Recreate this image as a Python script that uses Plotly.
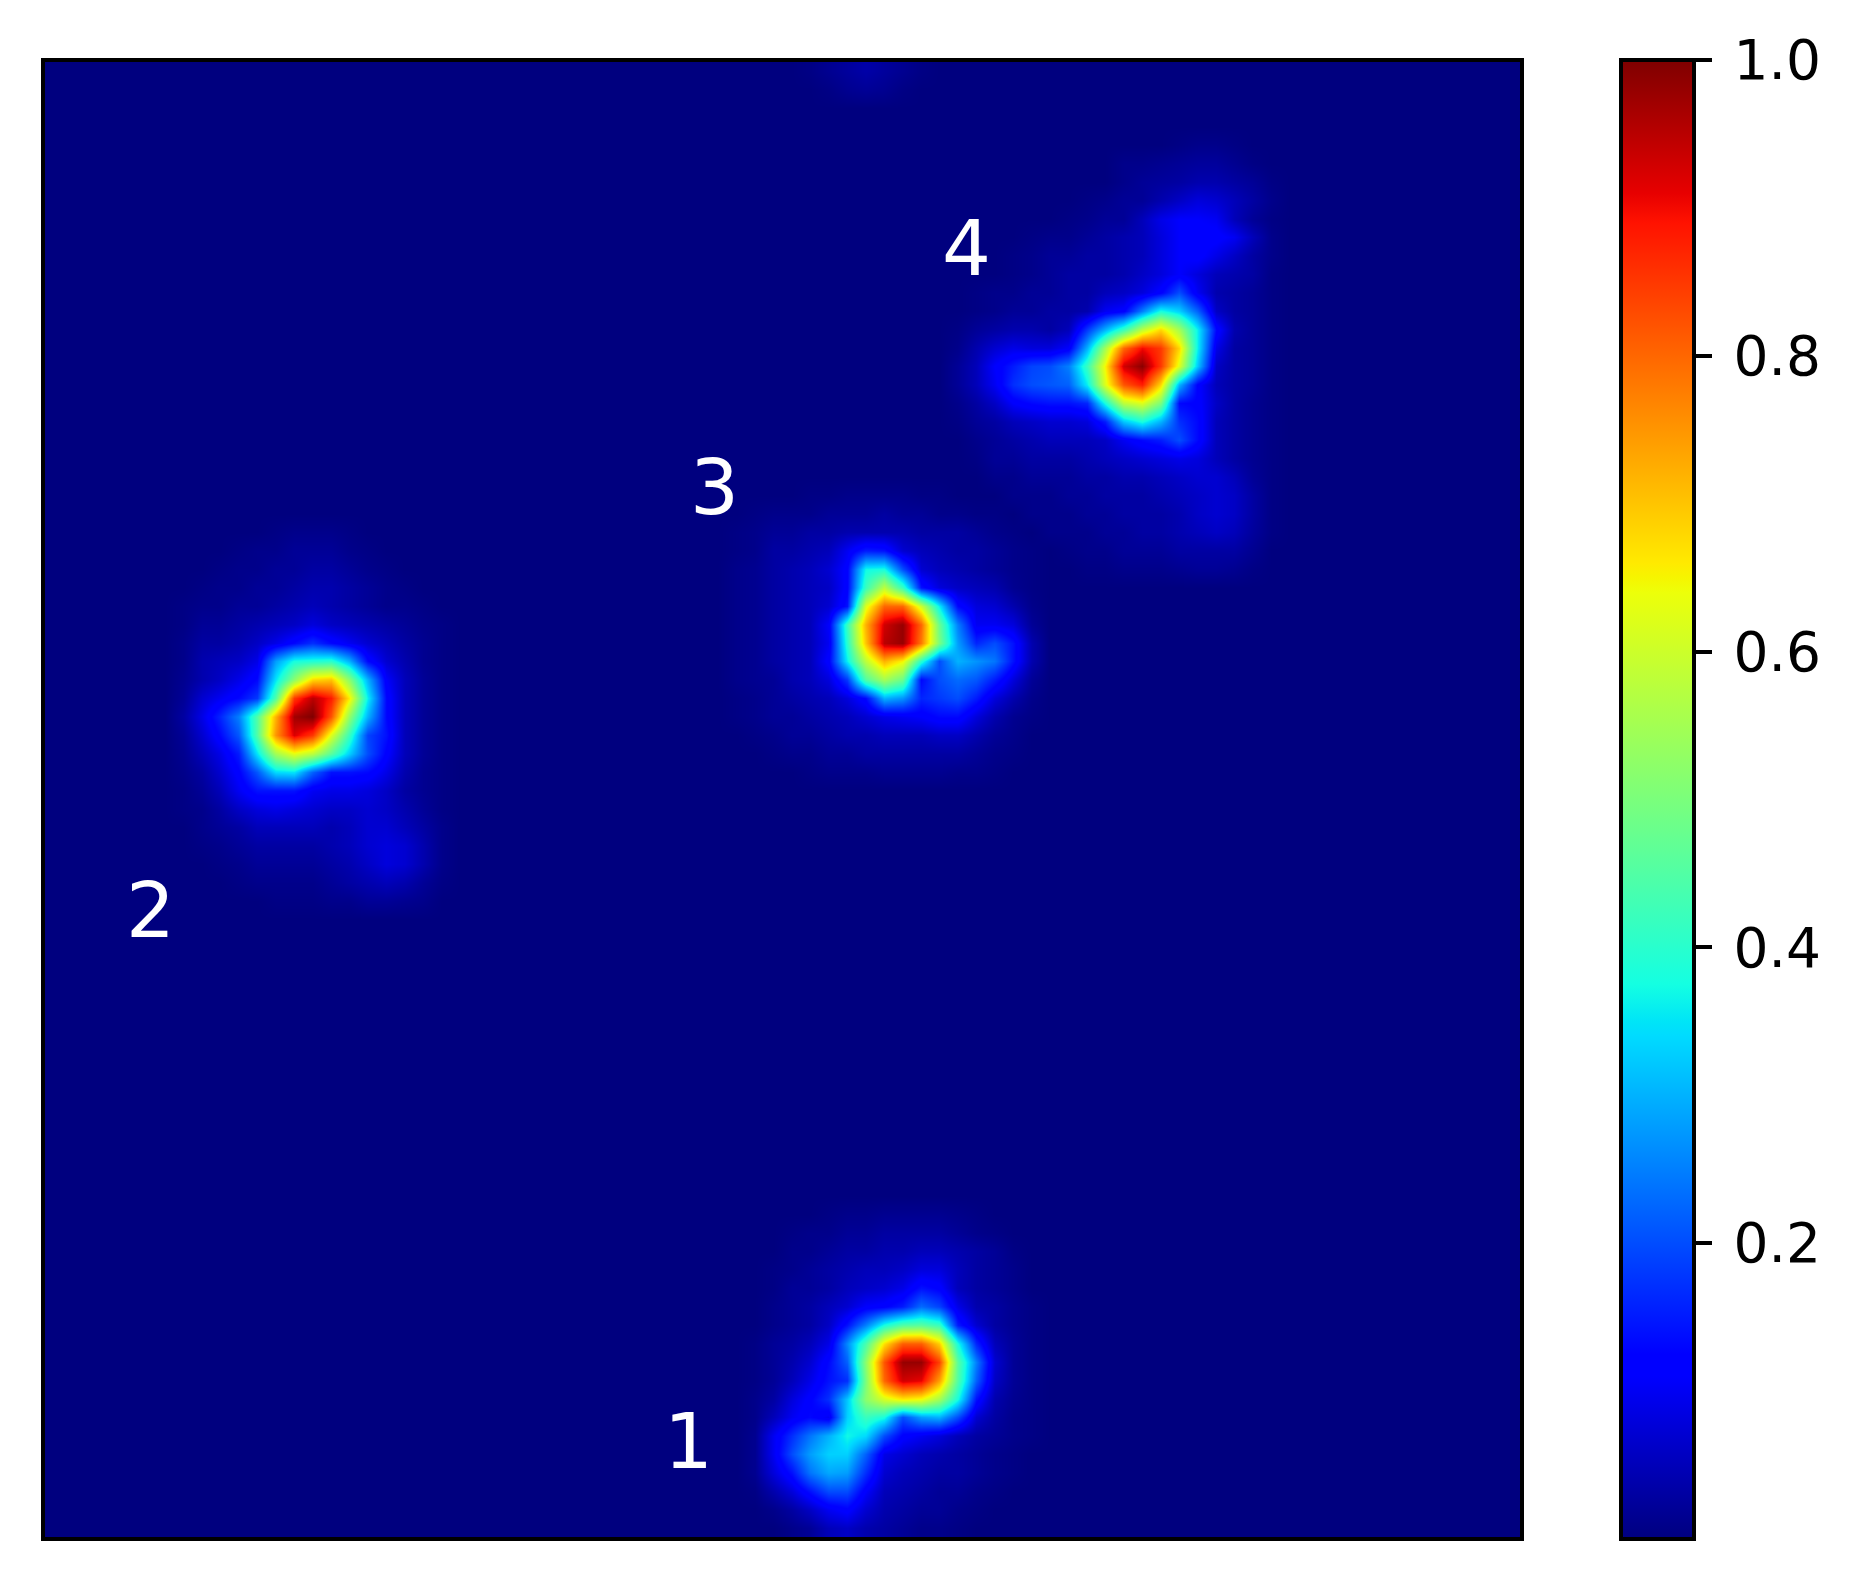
import numpy as np
import plotly.graph_objects as go

grid_size = 80
colorbar_ticks = [0.2, 0.4, 0.6, 0.8, 1.0]
colorbar_labels = ["\u20090.2", "\u20090.4", "\u20090.6", "\u20090.8", "\u20091.0"]
labels = ["1", "2", "3", "4"]
label_cols = [34.4, 5.2, 35.8, 49.5]
label_rows = [74.3, 45.5, 22.6, 9.6]

blob1_origin = (62, 38)
blob1 = [
[0,0,0,0,.005,.01,.01,.015,.015,.015,.015,.01,.005,0,0,0],
[0,0,.005,.01,.01,.02,.02,.03,.03,.03,.03,.02,.01,.005,0,0],
[0,0,.01,.01,.02,.03,.03,.04,.04,.05,.05,.04,.03,.02,.005,0],
[0,.005,.01,.02,.03,.04,.05,.05,.06,.08,.08,.05,.03,.02,.01,0],
[0,.005,.02,.02,.03,.05,.06,.07,.09,.14,.12,.05,.03,.02,.01,0],
[0,.01,.02,.03,.05,.07,.11,.12,.15,.23,.19,.09,.04,.03,.015,.005],
[0,.01,.02,.03,.06,.14,.25,.38,.45,.46,.42,.15,.07,.03,.015,.005],
[.005,.02,.03,.05,.09,.26,.44,.67,.81,.81,.69,.38,.16,.05,.02,.005],
[.005,.02,.04,.07,.13,.22,.52,.82,.98,.98,.84,.46,.25,.07,.02,.005],
[.005,.02,.05,.09,.14,.17,.5,.8,.93,.91,.74,.45,.22,.06,.02,.005],
[.01,.03,.08,.12,.17,.32,.52,.61,.66,.64,.55,.38,.14,.04,.015,.005],
[.01,.05,.1,.13,.1,.33,.42,.38,.2,.28,.3,.2,.07,.03,.01,.005],
[.015,.1,.17,.24,.3,.37,.34,.2,.12,.1,.08,.05,.03,.02,.01,.005],
[.015,.1,.2,.28,.33,.33,.22,.09,.07,.05,.04,.03,.02,.01,.005,0],
[.015,.08,.14,.24,.29,.28,.17,.07,.05,.04,.03,.03,.02,.01,.005,0],
[.005,.04,.08,.14,.2,.2,.11,.05,.04,.03,.02,.02,.01,.005,0,0],
[0,.01,.03,.06,.1,.12,.07,.04,.03,.02,.02,.01,.005,0,0,0],
[0,0,.01,.02,.05,.06,.04,.03,.02,.01,.01,.005,0,0,0,0],
]

blob2_origin = (25, 7)
blob2 = [
[0,0,0,0,0,.005,.01,.01,.01,.005,0,0,0,0,0],
[0,0,0,.005,.01,.01,.02,.02,.02,.01,.005,0,0,0,0],
[0,0,.005,.01,.01,.02,.02,.03,.03,.02,.01,.005,0,0,0],
[0,.005,.01,.01,.02,.02,.03,.04,.04,.03,.02,.01,.005,0,0],
[.005,.01,.01,.02,.02,.03,.04,.05,.04,.03,.02,.01,.01,.005,0],
[.005,.02,.02,.03,.04,.05,.06,.08,.06,.05,.04,.03,.02,.01,.005],
[.01,.03,.03,.04,.06,.09,.13,.17,.13,.1,.07,.05,.03,.015,.005],
[.01,.04,.05,.06,.09,.28,.38,.39,.4,.3,.13,.07,.04,.015,.005],
[.015,.04,.06,.09,.13,.35,.52,.68,.7,.52,.3,.11,.05,.02,.005],
[.02,.07,.1,.13,.18,.45,.85,.95,.88,.66,.36,.13,.05,.02,.005],
[.03,.09,.16,.25,.45,.72,.97,1.0,.82,.53,.3,.13,.05,.02,.005],
[.02,.07,.13,.21,.45,.75,.92,.85,.62,.42,.19,.14,.05,.02,.005],
[.015,.05,.09,.15,.35,.55,.63,.58,.46,.33,.2,.12,.05,.02,.005],
[.01,.03,.07,.12,.21,.34,.35,.22,.14,.14,.13,.09,.04,.015,.005],
[.005,.02,.05,.1,.14,.14,.14,.1,.09,.09,.08,.06,.03,.015,.005],
[.005,.01,.03,.06,.08,.09,.08,.07,.06,.06,.07,.06,.04,.02,.005],
[0,.01,.02,.03,.05,.05,.05,.05,.04,.05,.07,.07,.05,.03,.01],
[0,.005,.01,.02,.03,.03,.03,.03,.04,.05,.07,.08,.07,.04,.01],
[0,0,.005,.01,.02,.02,.02,.02,.03,.04,.06,.08,.07,.04,.01],
[0,0,0,.005,.01,.01,.01,.01,.02,.03,.04,.05,.04,.02,.005],
[0,0,0,0,0,.005,.005,.005,.01,.01,.02,.02,.015,.01,0],
]

blob3_origin = (23, 37)
blob3 = [
[0,0,0,0,.005,.005,.01,.01,.01,.01,.005,.005,0,0,0,0,0],
[0,.005,.01,.01,.01,.02,.02,.02,.03,.02,.02,.01,.01,.005,.005,0,0],
[.005,.01,.02,.02,.03,.03,.04,.04,.04,.04,.03,.03,.03,.02,.01,.005,0],
[.005,.01,.03,.03,.04,.05,.1,.15,.14,.07,.05,.04,.03,.03,.02,.01,.005],
[.01,.015,.03,.04,.05,.07,.12,.37,.38,.2,.07,.05,.04,.03,.02,.01,.005],
[.01,.015,.03,.04,.05,.06,.12,.42,.58,.42,.14,.08,.06,.05,.04,.015,.005],
[.01,.015,.03,.04,.05,.07,.14,.62,.8,.8,.6,.36,.13,.08,.07,.04,.01],
[.01,.015,.03,.04,.05,.11,.42,.72,.93,.98,.8,.48,.25,.1,.1,.08,.02],
[.01,.015,.03,.04,.05,.1,.4,.7,.95,.98,.78,.5,.28,.16,.2,.14,.04],
[.01,.015,.03,.04,.05,.12,.36,.58,.72,.65,.4,.2,.3,.27,.24,.14,.04],
[.01,.015,.02,.04,.05,.08,.18,.45,.55,.48,.13,.2,.23,.21,.15,.08,.02],
[.005,.01,.02,.03,.04,.05,.08,.13,.3,.27,.16,.18,.2,.15,.08,.04,.01],
[.005,.01,.02,.02,.03,.04,.05,.07,.09,.1,.11,.13,.13,.08,.04,.015,.005],
[0,.005,.01,.02,.02,.03,.04,.04,.05,.05,.05,.06,.06,.04,.02,.01,0],
[0,0,.005,.01,.01,.02,.02,.03,.03,.03,.03,.03,.03,.02,.01,.005,0],
[0,0,0,0,.005,.01,.01,.01,.015,.015,.015,.015,.01,.01,.005,0,0],
]

blob4_origin = (4, 49)
blob4 = [
[0,0,0,0,0,0,0,0,0,0,0,0,.005,.01,.01,.005,0,0],
[0,0,0,0,0,0,0,0,0,.01,.01,.015,.02,.025,.025,.015,.005,0],
[0,0,0,0,0,0,0,0,0,.01,.02,.025,.03,.04,.04,.03,.02,.005],
[0,0,0,0,0,0,0,.005,.01,.02,.02,.04,.06,.08,.07,.05,.03,.01],
[0,0,0,0,0,0,.005,.01,.02,.02,.05,.09,.11,.11,.1,.05,.02,.005],
[0,0,0,0,.005,.01,.01,.02,.03,.04,.05,.08,.11,.12,.12,.1,.05,.01],
[0,0,0,.005,.01,.02,.02,.03,.03,.04,.05,.08,.11,.12,.09,.06,.03,.01],
[0,0,0,.005,.01,.02,.03,.03,.03,.04,.06,.08,.11,.08,.05,.04,.03,.005],
[0,.005,.01,.01,.02,.02,.03,.03,.05,.06,.08,.12,.2,.1,.04,.03,.02,.005],
[0,.005,.01,.02,.02,.03,.03,.04,.1,.12,.25,.38,.33,.22,.06,.03,.02,.005],
[.005,.02,.03,.04,.04,.03,.05,.18,.3,.42,.58,.68,.55,.36,.13,.04,.02,.005],
[.01,.04,.07,.09,.08,.08,.11,.3,.55,.8,.9,.85,.68,.36,.09,.03,.02,.005],
[.02,.05,.11,.15,.19,.2,.25,.42,.65,.93,.99,.85,.62,.32,.06,.03,.02,.005],
[.02,.05,.1,.17,.2,.21,.22,.36,.62,.82,.88,.68,.3,.12,.05,.03,.02,.005],
[.01,.03,.06,.11,.13,.14,.14,.16,.38,.58,.62,.5,.13,.12,.06,.03,.015,.005],
[.005,.02,.03,.05,.06,.07,.07,.08,.15,.32,.38,.3,.17,.13,.05,.03,.015,.005],
[0,.01,.02,.03,.04,.05,.05,.05,.06,.1,.13,.15,.2,.13,.05,.03,.015,.005],
[0,.005,.02,.02,.03,.03,.03,.04,.05,.06,.07,.08,.09,.08,.05,.03,.015,.005],
[0,0,.01,.01,.02,.02,.02,.03,.03,.04,.04,.05,.06,.07,.07,.05,.02,.005],
[0,0,0,.01,.01,.01,.02,.02,.03,.03,.03,.04,.05,.06,.07,.06,.03,.005],
[0,0,0,0,.01,.01,.01,.02,.02,.03,.03,.03,.04,.06,.07,.06,.03,.005],
[0,0,0,0,0,.01,.01,.01,.02,.02,.03,.03,.04,.05,.06,.05,.025,.005],
[0,0,0,0,0,0,.005,.01,.01,.02,.02,.02,.03,.03,.03,.03,.015,0],
[0,0,0,0,0,0,0,.005,.005,.01,.01,.01,.015,.02,.02,.015,.005,0],
]

top_glow_origin = (0, 41)
top_glow = [
[.005,.015,.025,.035,.025,.015,.005],
[0,.005,.015,.02,.015,.005,0],
]

z = np.zeros((grid_size, grid_size))
for patch, (r0, c0) in [(blob1, blob1_origin), (blob2, blob2_origin), (blob3, blob3_origin),
                        (blob4, blob4_origin), (top_glow, top_glow_origin)]:
    p = np.array(patch, dtype=float)
    h, w = p.shape
    z[r0:r0 + h, c0:c0 + w] = np.maximum(z[r0:r0 + h, c0:c0 + w], p)

jet = [
    [0.0, "rgb(0,0,127)"], [0.11, "rgb(0,0,255)"], [0.125, "rgb(0,0,255)"],
    [0.34, "rgb(0,219,255)"], [0.35, "rgb(0,229,247)"], [0.375, "rgb(20,255,226)"],
    [0.64, "rgb(237,255,9)"], [0.65, "rgb(246,245,0)"], [0.66, "rgb(255,234,0)"],
    [0.89, "rgb(255,18,0)"], [0.91, "rgb(231,0,0)"], [1.0, "rgb(127,0,0)"],
]

# The page body adds an 8px margin, so the figure is laid out 8px up and left.
W, H = 1854, 1574
PL, PR, PT, PB = 37, 1512, 54, 1529

fig = go.Figure(go.Heatmap(
    z=z.tolist(), zmin=0, zmax=1, zsmooth="best", colorscale=jet, hoverinfo="skip",
    colorbar=dict(
        thicknessmode="pixels", thickness=73, lenmode="fraction", len=(PB - PT + 4) / H,
        x=1613 / W, xanchor="left", xpad=0, y=(H - PB - 2) / H, yanchor="bottom", ypad=0,
        outlinewidth=4, outlinecolor="black", borderwidth=0,
        tickmode="array", tickvals=colorbar_ticks, ticktext=colorbar_labels,
        ticks="outside", ticklen=16, tickwidth=4, tickcolor="black",
        tickfont=dict(family="DejaVu Sans", size=55, color="black"),
    ),
))
for t, c, r in zip(labels, label_cols, label_rows):
    fig.add_annotation(x=c, y=r, text=t, showarrow=False, xanchor="center", yanchor="middle",
                       font=dict(family="DejaVu Sans", size=77, color="white"))
axis = dict(showticklabels=False, ticks="", showgrid=False, zeroline=False, showline=True,
            linecolor="black", linewidth=4, mirror=True)
fig.update_layout(
    width=W, height=H, margin=dict(l=0, r=0, t=0, b=0), paper_bgcolor="white", plot_bgcolor="white",
    xaxis=dict(axis, domain=[PL / W, PR / W], range=[-0.5, grid_size - 0.5]),
    yaxis=dict(axis, domain=[(H - PB) / H, (H - PT) / H], range=[grid_size - 0.5, -0.5]),
)
fig.write_html("out.html", config={"displayModeBar": False})
